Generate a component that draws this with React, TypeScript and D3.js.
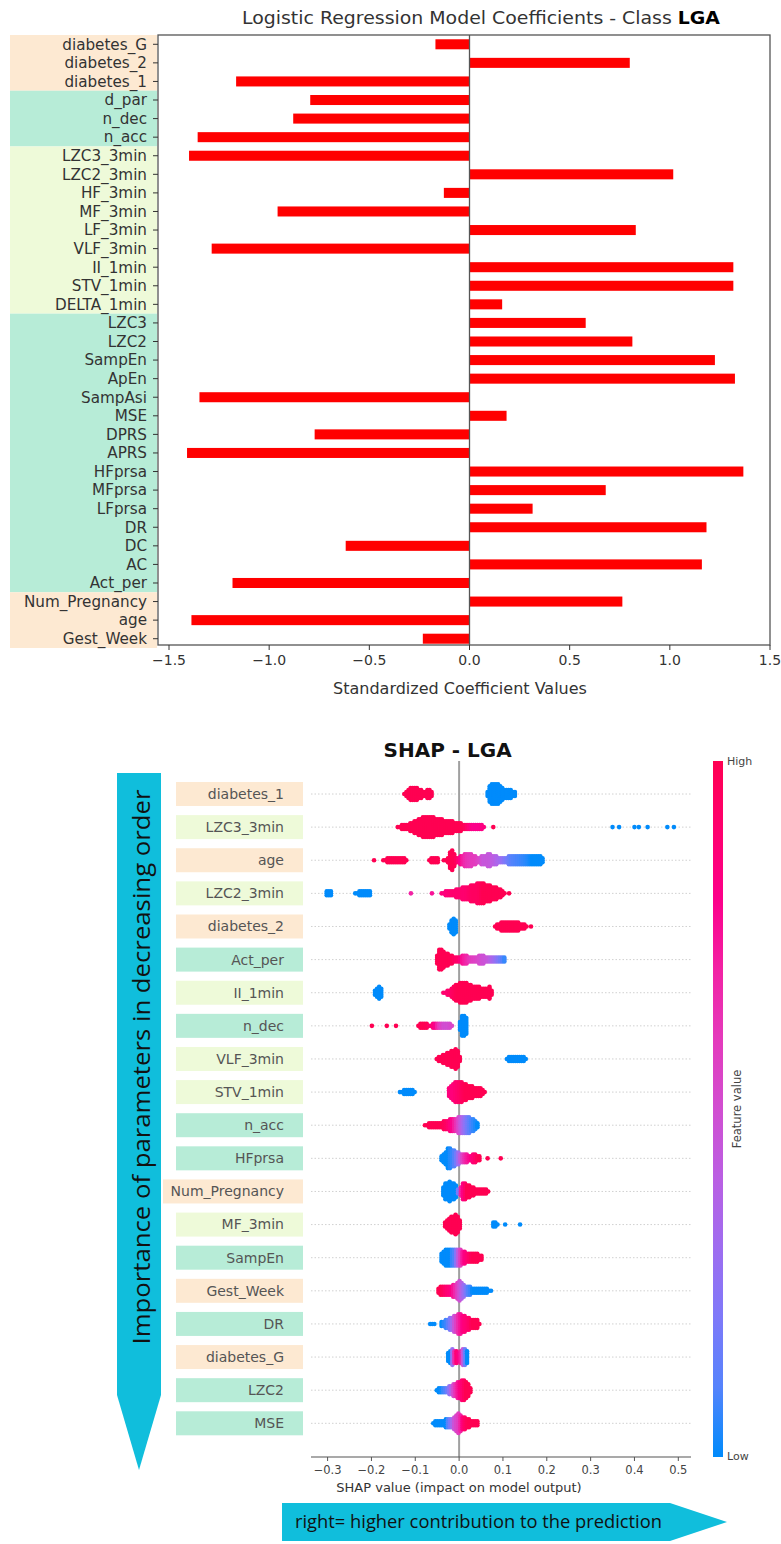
import React from "react";
import * as d3 from "d3";

// ---------- Top chart data: logistic regression coefficients ----------
const lrFeatures = [
  "diabetes_G", "diabetes_2", "diabetes_1", "d_par", "n_dec", "n_acc",
  "LZC3_3min", "LZC2_3min", "HF_3min", "MF_3min", "LF_3min", "VLF_3min",
  "II_1min", "STV_1min", "DELTA_1min", "LZC3", "LZC2", "SampEn", "ApEn",
  "SampAsi", "MSE", "DPRS", "APRS", "HFprsa", "MFprsa", "LFprsa", "DR",
  "DC", "AC", "Act_per", "Num_Pregnancy", "age", "Gest_Week",
];
const lrCoefs = [
  -0.17, 0.80, -1.165, -0.795, -0.88, -1.357,
  -1.40, 1.017, -0.128, -0.958, 0.83, -1.287,
  1.317, 1.317, 0.163, 0.58, 0.813, 1.225, 1.325,
  -1.348, 0.185, -0.773, -1.41, 1.367, 0.68, 0.315, 1.183,
  -0.618, 1.16, -1.183, 0.763, -1.388, -0.233,
];
// groups: [first feature, last feature, group]
const lrGroups: [string, string, string][] = [
  ["diabetes_G", "diabetes_1", "clinical"],
  ["d_par", "n_acc", "morph"],
  ["LZC3_3min", "DELTA_1min", "short"],
  ["LZC3", "Act_per", "morph"],
  ["Num_Pregnancy", "Gest_Week", "clinical"],
];
const lrTicks = [-1.5, -1.0, -0.5, 0.0, 0.5, 1.0, 1.5];

// ---------- Bottom chart data: SHAP summary ----------
const shapFeatures = [
  "diabetes_1", "LZC3_3min", "age", "LZC2_3min", "diabetes_2", "Act_per",
  "II_1min", "n_dec", "VLF_3min", "STV_1min", "n_acc", "HFprsa",
  "Num_Pregnancy", "MF_3min", "SampEn", "Gest_Week", "DR", "diabetes_G",
  "LZC2", "MSE",
];
const shapGroups = [
  "clinical", "short", "clinical", "short", "clinical", "morph",
  "short", "morph", "short", "short", "morph", "morph",
  "clinical", "short", "morph", "clinical", "morph", "clinical",
  "morph", "morph",
];
const shapTicks = [-0.3, -0.2, -0.1, 0.0, 0.1, 0.2, 0.3, 0.4, 0.5];

// Each feature: list of clusters; each cluster: knots [shap value, stacked dots per side, feature value 0..1]
type Knot = [number, number, number];
const shapClusters: Knot[][][] = [
  // diabetes_1
  [
    [[-0.125, 0, 1], [-0.118, 2, 1], [-0.108, 3, 1], [-0.098, 3, 1], [-0.089, 2, 1], [-0.08, 1, 1], [-0.072, 2, 1], [-0.065, 2, 1], [-0.061, 0, 1]],
    [[0.065, 1, 0], [0.07, 4, 0], [0.078, 5, 0], [0.086, 5, 0], [0.095, 4, 0], [0.105, 2, 0], [0.115, 2, 0], [0.125, 1, 0], [0.132, 0, 0]],
  ],
  // LZC3_3min
  [
    [[-0.14, 0, 1], [-0.13, 1, 1], [-0.12, 1, 1], [-0.11, 2, 1], [-0.1, 3, 1], [-0.09, 4, 1], [-0.08, 5, 1], [-0.07, 5, 1], [-0.06, 5, 1], [-0.05, 4, 1], [-0.04, 4, 1], [-0.03, 3, 1], [-0.02, 3, 1], [-0.01, 2, 1], [0.0, 2, 1], [0.01, 1, 1], [0.02, 1, 0.9], [0.03, 1, 0.8], [0.045, 1, 0.8], [0.06, 0, 0.85]],
    [[0.078, 0, 1]],
    [[0.35, 0, 0]], [[0.365, 0, 0]], [[0.4, 0, 0]], [[0.41, 0, 0]], [[0.43, 0, 0]], [[0.475, 0, 0]], [[0.49, 0, 0]],
  ],
  // age
  [
    [[-0.194, 0, 1]],
    [[-0.173, 0, 1], [-0.16, 1, 1], [-0.13, 1, 1], [-0.116, 0, 1]],
    [[-0.068, 0, 1], [-0.06, 1, 1], [-0.05, 1, 1], [-0.045, 0, 1]],
    [[-0.035, 0, 1], [-0.025, 1, 1], [-0.02, 4, 1], [-0.016, 5, 1], [-0.012, 3, 1], [-0.005, 1, 0.95], [0.006, 2, 0.75], [0.015, 3, 0.65], [0.025, 3, 0.6], [0.035, 2, 0.6], [0.045, 1, 0.55], [0.055, 2, 0.45], [0.067, 3, 0.45], [0.08, 2, 0.4], [0.095, 1, 0.3], [0.105, 1, 0.2], [0.12, 2, 0.1], [0.143, 2, 0.05], [0.165, 2, 0], [0.181, 2, 0], [0.193, 1, 0]],
  ],
  // LZC2_3min
  [
    [[-0.302, 1, 0], [-0.29, 1, 0]],
    [[-0.237, 0, 0], [-0.225, 1, 0], [-0.205, 1, 0], [-0.2, 0, 0]],
    [[-0.11, 0, 0.7]],
    [[-0.062, 0, 0.75]],
    [[-0.04, 0, 0.85], [-0.03, 1, 0.85], [-0.015, 1, 0.9], [0.0, 2, 0.9], [0.015, 3, 0.9], [0.03, 4, 0.95], [0.044, 5, 0.95], [0.055, 5, 1], [0.065, 4, 1], [0.08, 3, 1], [0.09, 2, 1], [0.1, 1, 1], [0.105, 0, 1]],
    [[0.114, 0, 1]],
  ],
  // diabetes_2
  [
    [[-0.022, 1, 0], [-0.016, 4, 0], [-0.012, 4, 0], [-0.006, 2, 0], [-0.003, 0, 0]],
    [[0.082, 0, 1], [0.09, 1, 1], [0.1, 2, 1], [0.115, 2, 1], [0.13, 2, 1], [0.14, 1, 1], [0.15, 1, 1], [0.155, 0, 1]],
    [[0.164, 0, 1]],
  ],
  // Act_per
  [
    [[-0.05, 2, 1], [-0.045, 5, 1], [-0.04, 5, 1], [-0.035, 4, 1], [-0.028, 3, 1], [-0.02, 2, 1], [-0.01, 1, 0.95], [0.0, 1, 0.9], [0.008, 2, 0.75], [0.015, 2, 0.7], [0.025, 1, 0.6], [0.04, 1, 0.55], [0.05, 2, 0.5], [0.065, 1, 0.45], [0.08, 1, 0.3], [0.095, 1, 0.15], [0.103, 1, 0.05], [0.106, 0, 0]],
  ],
  // II_1min
  [
    [[-0.192, 1, 0], [-0.185, 3, 0], [-0.178, 2, 0], [-0.173, 0, 0]],
    [[-0.036, 0, 0.9], [-0.025, 1, 0.9], [-0.015, 2, 0.95], [-0.005, 4, 1], [0.005, 5, 1], [0.015, 5, 1], [0.025, 4, 1], [0.035, 3, 1], [0.045, 3, 1], [0.055, 2, 1], [0.065, 2, 1], [0.072, 3, 1], [0.076, 0, 1]],
  ],
  // n_dec
  [
    [[-0.199, 0, 1]], [[-0.165, 0, 1]], [[-0.144, 0, 1], [-0.14, 0, 1]],
    [[-0.093, 0, 1], [-0.085, 1, 1], [-0.075, 1, 1], [-0.065, 0, 0.9], [-0.055, 1, 0.8], [-0.045, 1, 0.6], [-0.035, 1, 0.5], [-0.025, 1, 0.5], [-0.015, 0, 0.55]],
    [[0.002, 2, 0], [0.006, 5, 0], [0.012, 5, 0], [0.018, 3, 0], [0.021, 1, 0]],
  ],
  // VLF_3min
  [
    [[-0.051, 0, 1], [-0.045, 1, 1], [-0.035, 2, 1], [-0.025, 3, 1], [-0.015, 4, 1], [-0.008, 5, 1], [-0.002, 4, 1], [0.002, 1, 1]],
    [[0.109, 0, 0], [0.115, 1, 0], [0.13, 1, 0], [0.145, 1, 0], [0.154, 0, 0]],
  ],
  // STV_1min
  [
    [[-0.135, 0, 0], [-0.125, 1, 0], [-0.11, 1, 0], [-0.1, 0, 0]],
    [[-0.023, 2, 0.85], [-0.015, 4, 0.85], [-0.005, 5, 0.9], [0.005, 5, 0.95], [0.015, 4, 1], [0.025, 3, 1], [0.035, 2, 1], [0.045, 2, 1], [0.055, 1, 1], [0.059, 0, 1]],
  ],
  // n_acc
  [
    [[-0.078, 0, 1], [-0.065, 1, 1], [-0.05, 1, 1], [-0.04, 1, 1], [-0.03, 2, 0.95], [-0.02, 3, 0.85], [-0.01, 3, 0.7], [0.0, 4, 0.5], [0.01, 4, 0.3], [0.02, 4, 0.15], [0.03, 3, 0.05], [0.04, 2, 0], [0.045, 0, 0]],
  ],
  // HFprsa
  [
    [[-0.04, 1, 0], [-0.032, 3, 0], [-0.024, 5, 0], [-0.014, 4, 0.05], [-0.005, 3, 0.2], [0.005, 2, 0.5], [0.015, 2, 0.7], [0.025, 1, 0.8], [0.035, 2, 0.9], [0.045, 1, 1], [0.05, 0, 1]],
    [[0.065, 0, 1]], [[0.095, 0, 1]],
  ],
  // Num_Pregnancy
  [
    [[-0.036, 2, 0], [-0.03, 4, 0], [-0.022, 5, 0], [-0.012, 4, 0], [-0.005, 3, 0], [-0.001, 0, 0.3]],
    [[0.004, 2, 0.7], [0.01, 4, 0.85], [0.018, 3, 1], [0.03, 2, 1], [0.045, 1, 1], [0.06, 1, 1], [0.067, 0, 1]],
  ],
  // MF_3min
  [
    [[-0.032, 1, 1], [-0.025, 3, 1], [-0.015, 4, 1], [-0.007, 5, 1], [-0.001, 4, 1], [0.003, 1, 1]],
    [[0.078, 1, 0], [0.085, 1, 0], [0.09, 0, 0]], [[0.105, 0, 0]], [[0.139, 0, 0]],
  ],
  // SampEn
  [
    [[-0.04, 2, 0], [-0.03, 4, 0], [-0.02, 4, 0], [-0.01, 4, 0.1], [0.0, 4, 0.5], [0.01, 3, 0.8], [0.02, 2, 0.9], [0.03, 2, 1], [0.04, 2, 1], [0.05, 1, 1], [0.053, 0, 1]],
  ],
  // Gest_Week
  [
    [[-0.047, 1, 1], [-0.04, 2, 1], [-0.03, 2, 0.9], [-0.02, 2, 0.85], [-0.01, 3, 0.7], [0.0, 5, 0.5], [0.01, 3, 0.3], [0.02, 2, 0.1], [0.03, 1, 0], [0.045, 1, 0], [0.06, 1, 0], [0.073, 0, 0]],
  ],
  // DR
  [
    [[-0.066, 0, 0], [-0.056, 0, 0]],
    [[-0.04, 1, 0], [-0.03, 2, 0.05], [-0.02, 3, 0.2], [-0.01, 4, 0.5], [0.0, 5, 0.7], [0.01, 4, 0.85], [0.02, 3, 0.9], [0.03, 2, 1], [0.04, 2, 1], [0.048, 0, 1]],
  ],
  // diabetes_G
  [
    [[-0.025, 2, 0], [-0.02, 3, 0], [-0.015, 4, 0.3], [-0.008, 3, 0.9], [0.0, 2, 0.8], [0.005, 3, 0.7], [0.012, 4, 0.2], [0.018, 3, 0], [0.022, 1, 0]],
  ],
  // LZC2
  [
    [[-0.051, 0, 0], [-0.042, 1, 0], [-0.03, 1, 0.1], [-0.02, 2, 0.3], [-0.01, 3, 0.6], [0.0, 4, 0.8], [0.008, 5, 0.9], [0.015, 4, 1], [0.022, 3, 1], [0.026, 1, 1]],
  ],
  // MSE
  [
    [[-0.059, 0, 0], [-0.05, 1, 0], [-0.04, 1, 0], [-0.03, 2, 0], [-0.02, 2, 0.2], [-0.01, 3, 0.5], [0.0, 5, 0.6], [0.01, 3, 0.9], [0.02, 2, 1], [0.03, 1, 1], [0.04, 1, 1], [0.044, 0, 1]],
  ],
];

// ---------- styles ----------
const groupFill: Record<string, string> = {
  clinical: "#fde9d2",
  morph: "#b7ecd7",
  short: "#eefad9",
};
const CYAN = "#10bedc";
const FONT = "'DejaVu Sans', sans-serif";
const ARROW_FONT = "'Open Sans', sans-serif";
const shapColor = d3.interpolateHcl("#008bfb", "#ff0052");

function LRChart() {
  const x = d3.scaleLinear().domain([-1.5, 1.5]).range([169, 770]);
  const y = d3.scaleBand<string>().domain(lrFeatures).range([35, 648]).paddingInner(0.46).paddingOuter(0.23);
  const yc = (f: string) => (y(f) as number) + y.bandwidth() / 2;
  const step = y.step();
  const frame = { left: 158, right: 770, top: 35, bottom: 645 };
  return (
    <g>
      {lrGroups.map(([a, b, g], i) => (
        <rect key={i} x={10} width={147} y={yc(a) - step / 2} height={yc(b) - yc(a) + step} fill={groupFill[g]} />
      ))}
      <rect x={frame.left} y={frame.top} width={frame.right - frame.left} height={frame.bottom - frame.top} fill="#fff" />
      {lrFeatures.map((f, i) => {
        const v = lrCoefs[i];
        return (
          <rect key={f} x={x(Math.min(0, v))} width={Math.abs(x(v) - x(0))} y={y(f)} height={y.bandwidth()} fill="#ff0000" />
        );
      })}
      <line x1={x(0)} x2={x(0)} y1={frame.top} y2={frame.bottom} stroke="#555" strokeWidth={1.3} />
      <rect x={frame.left} y={frame.top} width={frame.right - frame.left} height={frame.bottom - frame.top} fill="none" stroke="#555" strokeWidth={1.3} />
      {lrFeatures.map((f) => (
        <g key={f}>
          <line x1={frame.left - 5} x2={frame.left} y1={yc(f)} y2={yc(f)} stroke="#333" strokeWidth={1} />
          <text x={frame.left - 11} y={yc(f)} dy="0.35em" textAnchor="end" fontSize={15.2} fontFamily={FONT} fill="#333">{f}</text>
        </g>
      ))}
      {lrTicks.map((t) => (
        <g key={t}>
          <line x1={x(t)} x2={x(t)} y1={frame.bottom} y2={frame.bottom + 5} stroke="#333" />
          <text x={x(t)} y={frame.bottom + 20} textAnchor="middle" fontSize={14} fontFamily={FONT} fill="#333">{d3.format(".1f")(t).replace("-", "\u2212")}</text>
        </g>
      ))}
      <text x={460} y={694} textAnchor="middle" fontSize={16} fontFamily={FONT} fill="#333">Standardized Coefficient Values</text>
      <text x={242} y={24} fontSize={17.5} fontFamily={FONT} fill="#333" textLength={478} lengthAdjust="spacingAndGlyphs">
        Logistic Regression Model Coefficients - Class <tspan fontWeight="bold" fill="#000">LGA</tspan>
      </text>
    </g>
  );
}

function ShapChart() {
  const x = d3.scaleLinear().domain([-0.3, 0.5]).range([327.6, 678.3]);
  const y = d3.scaleLinear().domain([0, shapFeatures.length - 1]).range([794, 1423.3]);
  const axisY = 1457;
  const dotR = 2.3;
  const dx = 2.1;
  const dy = 1.95;
  const dots: { cx: number; cy: number; c: string }[] = [];
  shapClusters.forEach((clusters, fi) => {
    const cy0 = y(fi);
    clusters.forEach((knots) => {
      const xs = knots.map((k) => x(k[0]));
      const addCol = (px: number, half: number, cv: number) => {
        for (let k = -half; k <= half; k++) dots.push({ cx: px, cy: cy0 + k * dy, c: shapColor(cv) });
      };
      if (knots.length === 1) {
        addCol(xs[0], knots[0][1], knots[0][2]);
        return;
      }
      const hS = d3.scaleLinear().domain(xs).range(knots.map((k) => k[1]));
      const cS = d3.scaleLinear().domain(xs).range(knots.map((k) => k[2]));
      for (let px = xs[0]; px <= xs[xs.length - 1] + 0.01; px += dx) {
        addCol(px, Math.round(hS(px)), cS(px));
      }
    });
  });
  const cbTop = 761, cbBot = 1457, cbX = 713, cbW = 10;
  return (
    <g>
      <defs>
        <linearGradient id="cbgrad" x1="0" y1="1" x2="0" y2="0">
          {d3.range(0, 1.001, 0.1).map((t) => (
            <stop key={t} offset={t} stopColor={shapColor(t)} />
          ))}
        </linearGradient>
      </defs>
      <text x={447.7} y={757} textAnchor="middle" fontSize={20} fontWeight="bold" fontFamily={FONT} fill="#111">SHAP - LGA</text>
      {shapFeatures.map((f, i) => (
        <g key={f}>
          <rect x={f === "Num_Pregnancy" ? 163 : 176} width={f === "Num_Pregnancy" ? 140 : 127} y={y(i) - 12} height={24} fill={groupFill[shapGroups[i]]} />
          <text x={284} y={y(i)} dy="0.35em" textAnchor="end" fontSize={14} fontFamily={FONT} fill="#555">{f}</text>
          <line x1={311} x2={691} y1={y(i)} y2={y(i)} stroke="#d0d0d0" strokeWidth={1} strokeDasharray="1.5,2" />
        </g>
      ))}
      <line x1={x(0)} x2={x(0)} y1={761} y2={axisY} stroke="#a0a0a0" strokeWidth={2} />
      {dots.map((d, i) => (
        <circle key={i} cx={d.cx} cy={d.cy} r={dotR} fill={d.c} />
      ))}
      <line x1={311} x2={691} y1={axisY} y2={axisY} stroke="#555" strokeWidth={1.2} />
      {shapTicks.map((t) => (
        <g key={t}>
          <line x1={x(t)} x2={x(t)} y1={axisY} y2={axisY + 4} stroke="#555" />
          <text x={x(t)} y={axisY + 17} textAnchor="middle" fontSize={11.5} fontFamily={FONT} fill="#444">{d3.format(".1f")(t).replace("-", "\u2212")}</text>
        </g>
      ))}
      <text x={459} y={1492} textAnchor="middle" fontSize={13} fontFamily={FONT} fill="#333">SHAP value (impact on model output)</text>
      <rect x={cbX} y={cbTop} width={cbW} height={cbBot - cbTop} fill="url(#cbgrad)" />
      <text x={cbX + cbW + 4} y={cbTop + 4} fontSize={11} fontFamily={FONT} fill="#444">High</text>
      <text x={cbX + cbW + 4} y={cbBot + 3} fontSize={11} fontFamily={FONT} fill="#444">Low</text>
      <text transform={`translate(${cbX + cbW + 18},${(cbTop + cbBot) / 2}) rotate(-90)`} textAnchor="middle" fontSize={11.5} fontFamily={FONT} fill="#444">Feature value</text>

      {/* left importance arrow */}
      <path d="M117,773 L161,773 L161,1395 L139,1470 L117,1395 Z" fill={CYAN} />
      <text transform="translate(150,1067) rotate(-90)" textAnchor="middle" fontSize={24} fontFamily={ARROW_FONT} fill="#111" textLength={555} lengthAdjust="spacingAndGlyphs">Importance of parameters in decreasing order</text>

      {/* bottom contribution arrow */}
      <path d="M282,1503 L670,1503 L727,1522 L670,1541 L282,1541 Z" fill={CYAN} />
      <text x={295} y={1528} fontSize={18} fontFamily={ARROW_FONT} fill="#111" textLength={367} lengthAdjust="spacingAndGlyphs">right= higher contribution to the prediction</text>
    </g>
  );
}

export default function App() {
  return (
    <svg width={781} height={1544} style={{ position: "absolute", left: 0, top: 0, background: "#fff" }}>
      <rect width={781} height={1544} fill="#fff" />
      <LRChart />
      <ShapChart />
    </svg>
  );
}
